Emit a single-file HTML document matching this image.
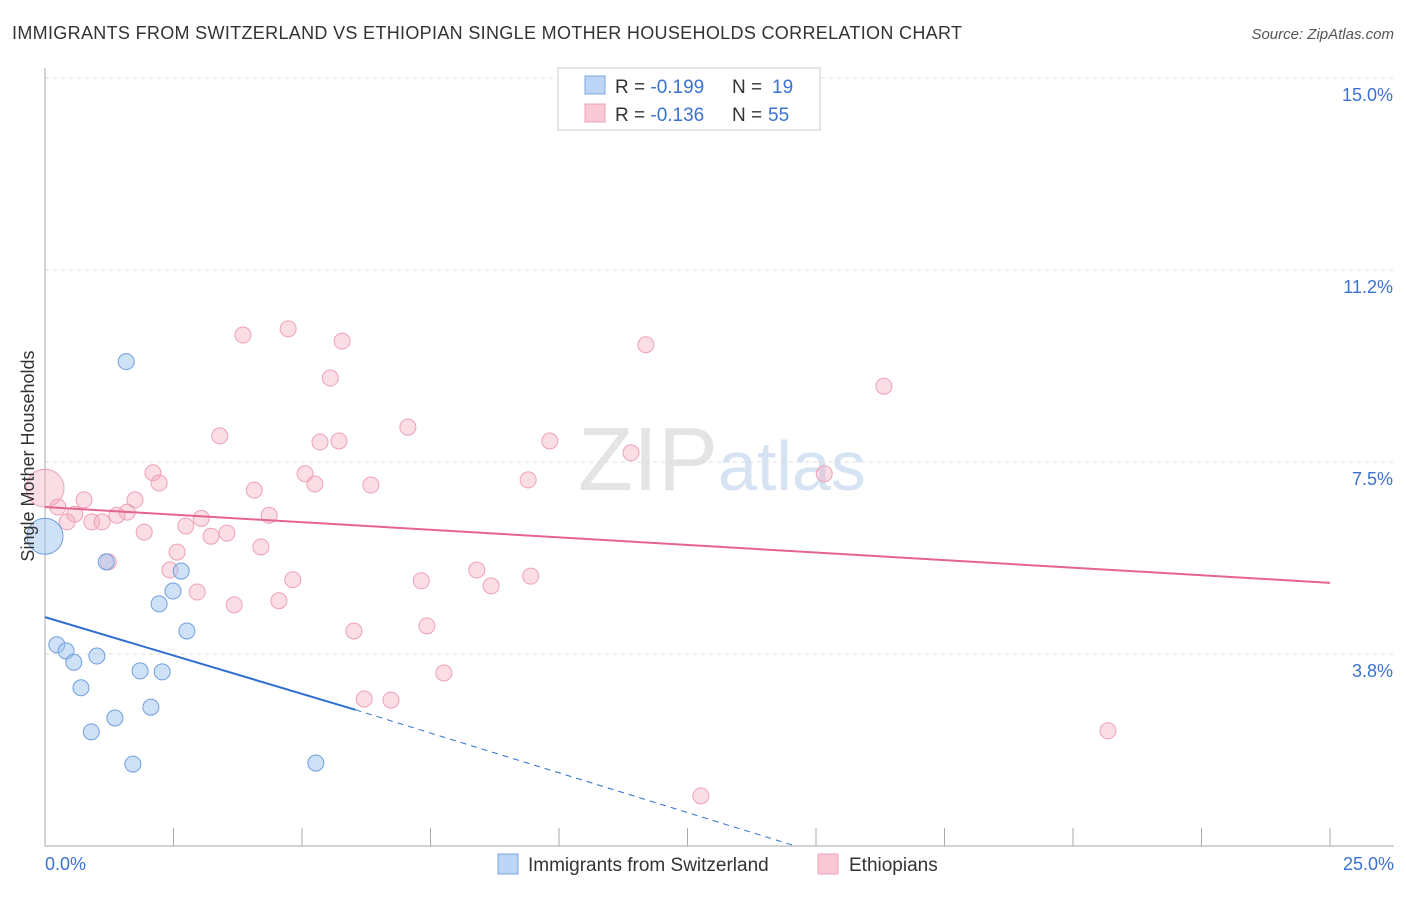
<!DOCTYPE html>
<html><head><meta charset="utf-8"><style>
body{margin:0;background:#fff;font-family:"Liberation Sans",sans-serif;}
svg text{font-family:"Liberation Sans",sans-serif;}
</style></head><body>
<svg id="chart" width="1406" height="892">
<text x="12" y="39" font-size="18" fill="#333" textLength="950">IMMIGRANTS FROM SWITZERLAND VS ETHIOPIAN SINGLE MOTHER HOUSEHOLDS CORRELATION CHART</text>
<text x="1394" y="39" font-size="15" fill="#555" text-anchor="end" font-style="italic">Source: ZipAtlas.com</text>
<text x="718" y="490" font-size="90" fill="#e4e4e4" text-anchor="end" font-family="Liberation Serif">ZIP</text>
<text x="718" y="490" font-size="70" fill="#d6e3f3">atlas</text>
<g id="grid"></g><g id="axes"></g><g id="pts"></g><g id="trends"></g>
<text transform="translate(34,456) rotate(-90)" font-size="18" fill="#333" text-anchor="middle">Single Mother Households</text>
<g>
<rect x="558" y="68" width="262" height="62" fill="#fff" stroke="#ccc"/>
<rect x="585" y="76" width="20" height="18" fill="#bcd4f5" stroke="#7da7e0"/>
<rect x="585" y="104" width="20" height="18" fill="#f9c9d6" stroke="#eea1b5"/>
<text x="615" y="93" font-size="19" fill="#333">R = <tspan fill="#3a72d1">-0.199</tspan></text>
<text x="732" y="93" font-size="19" fill="#333">N = </text><text x="772" y="93" font-size="19" fill="#3a72d1">19</text>
<text x="615" y="121" font-size="19" fill="#333">R = <tspan fill="#3a72d1">-0.136</tspan></text>
<text x="732" y="121" font-size="19" fill="#333">N = </text><text x="768" y="121" font-size="19" fill="#3a72d1">55</text>
</g>
<g>
<rect x="498" y="854" width="20" height="20" fill="#bcd4f5" stroke="#7da7e0"/>
<text x="528" y="871" font-size="19" fill="#333">Immigrants from Switzerland</text>
<rect x="818" y="854" width="20" height="20" fill="#f9c9d6" stroke="#eea1b5"/>
<text x="849" y="871" font-size="19" fill="#333">Ethiopians</text>
</g>
</svg>
<script>
const xTicks=[0,2.5,5,7.5,10,12.5,15,17.5,20,22.5,25];
const yTicks=[3.75,7.5,11.25,15];
const yTickLabels=["3.8%","7.5%","11.2%","15.0%"];
const blueX=[1.58,1.19,2.65,2.49,2.22,2.76,0.23,0.41,1.01,0.56,1.85,2.28,0.70,2.06,1.36,0.90,1.71,5.27,0];
const blueY=[9.46,5.55,5.37,4.98,4.73,4.20,3.93,3.81,3.71,3.59,3.42,3.40,3.09,2.71,2.50,2.23,1.60,1.62,6.05];
const pinkX=[3.85,4.73,5.78,11.69,5.55,16.32,7.06,3.40,5.35,5.72,9.82,11.40,2.10,5.06,15.16,2.22,5.25,6.34,9.40,4.07,0.76,1.75,0.25,0.58,1.60,1.40,4.36,3.04,0.91,1.11,0.43,2.74,1.93,3.23,3.54,4.20,2.57,1.23,2.43,8.40,9.45,4.82,7.32,8.68,2.96,4.55,3.68,7.43,6.01,7.76,6.21,6.73,20.68,12.76,0];
const pinkY=[9.98,10.10,9.86,9.79,9.14,8.98,8.18,8.01,7.89,7.91,7.91,7.68,7.29,7.27,7.27,7.09,7.07,7.05,7.15,6.95,6.76,6.76,6.62,6.48,6.52,6.46,6.46,6.40,6.33,6.33,6.33,6.25,6.13,6.05,6.11,5.84,5.74,5.55,5.39,5.39,5.27,5.20,5.18,5.08,4.96,4.79,4.71,4.30,4.20,3.38,2.87,2.85,2.25,0.98,6.99];
const blueTrend=[0,4.47,6.04,2.66,14.6,0];
const pinkTrend=[0,6.62,25,5.14];
const X=v=>45+v*51.4, Y=v=>846-v*51.2;
const NS="http://www.w3.org/2000/svg";
function mk(t,a,p){const e=document.createElementNS(NS,t);for(const k in a)e.setAttribute(k,a[k]);p.appendChild(e);return e;}
const grid=document.getElementById('grid'),axes=document.getElementById('axes'),pts=document.getElementById('pts'),tr=document.getElementById('trends');
yTicks.forEach((t,i)=>{
 const l=mk('line',{x1:45,x2:1394,y1:Y(t),y2:Y(t),stroke:'#ddd','stroke-dasharray':'4,4'},grid);
 
 
 const tx=mk('text',{x:1393,y:Y(t)+23,'font-size':18,fill:'#3a72d1','text-anchor':'end'},grid);tx.textContent=yTickLabels[i];
 
 
});
const ax=mk('line',{x1:45,x2:1394,y1:846,y2:846,stroke:'#aaa'},axes);


const ay=mk('line',{x1:45,x2:45,y1:68,y2:846,stroke:'#aaa'},axes);


xTicks.forEach(t=>{const l=mk('line',{x1:X(t),x2:X(t),y1:828,y2:846,stroke:'#aaa'},axes);
 
 });
[[0,"0.0%","start",45],[25,"25.0%","end",1394]].forEach(([v,s,a,x])=>{const t=mk('text',{x:x,y:870,'font-size':18,fill:'#3a72d1','text-anchor':a},axes);t.textContent=s;
 
 });
pinkX.forEach((x,i)=>{const big=i===pinkX.length-1;const c=mk('circle',{cx:X(x),cy:Y(pinkY[i]),r:big?19:8,fill:'rgba(246,170,192,0.4)',stroke:'#eea1b5','stroke-width':1},pts);
 
 });
blueX.forEach((x,i)=>{const big=i===blueX.length-1;const c=mk('circle',{cx:X(x),cy:Y(blueY[i]),r:big?18:8,fill:'rgba(160,195,240,0.5)',stroke:'#6f9ee0','stroke-width':1},pts);
 
 });
const b1=mk('line',{x1:X(blueTrend[0]),y1:Y(blueTrend[1]),x2:X(blueTrend[2]),y2:Y(blueTrend[3]),stroke:'#2f6fd0','stroke-width':2},tr);


const b2=mk('line',{x1:X(blueTrend[2]),y1:Y(blueTrend[3]),x2:X(blueTrend[4]),y2:Y(blueTrend[5]),stroke:'#2f6fd0','stroke-width':1,'stroke-dasharray':'6,5'},tr);


const p1=mk('line',{x1:X(pinkTrend[0]),y1:Y(pinkTrend[1]),x2:X(pinkTrend[2]),y2:Y(pinkTrend[3]),stroke:'#e5648e','stroke-width':2},tr);


</script>
</body></html>
